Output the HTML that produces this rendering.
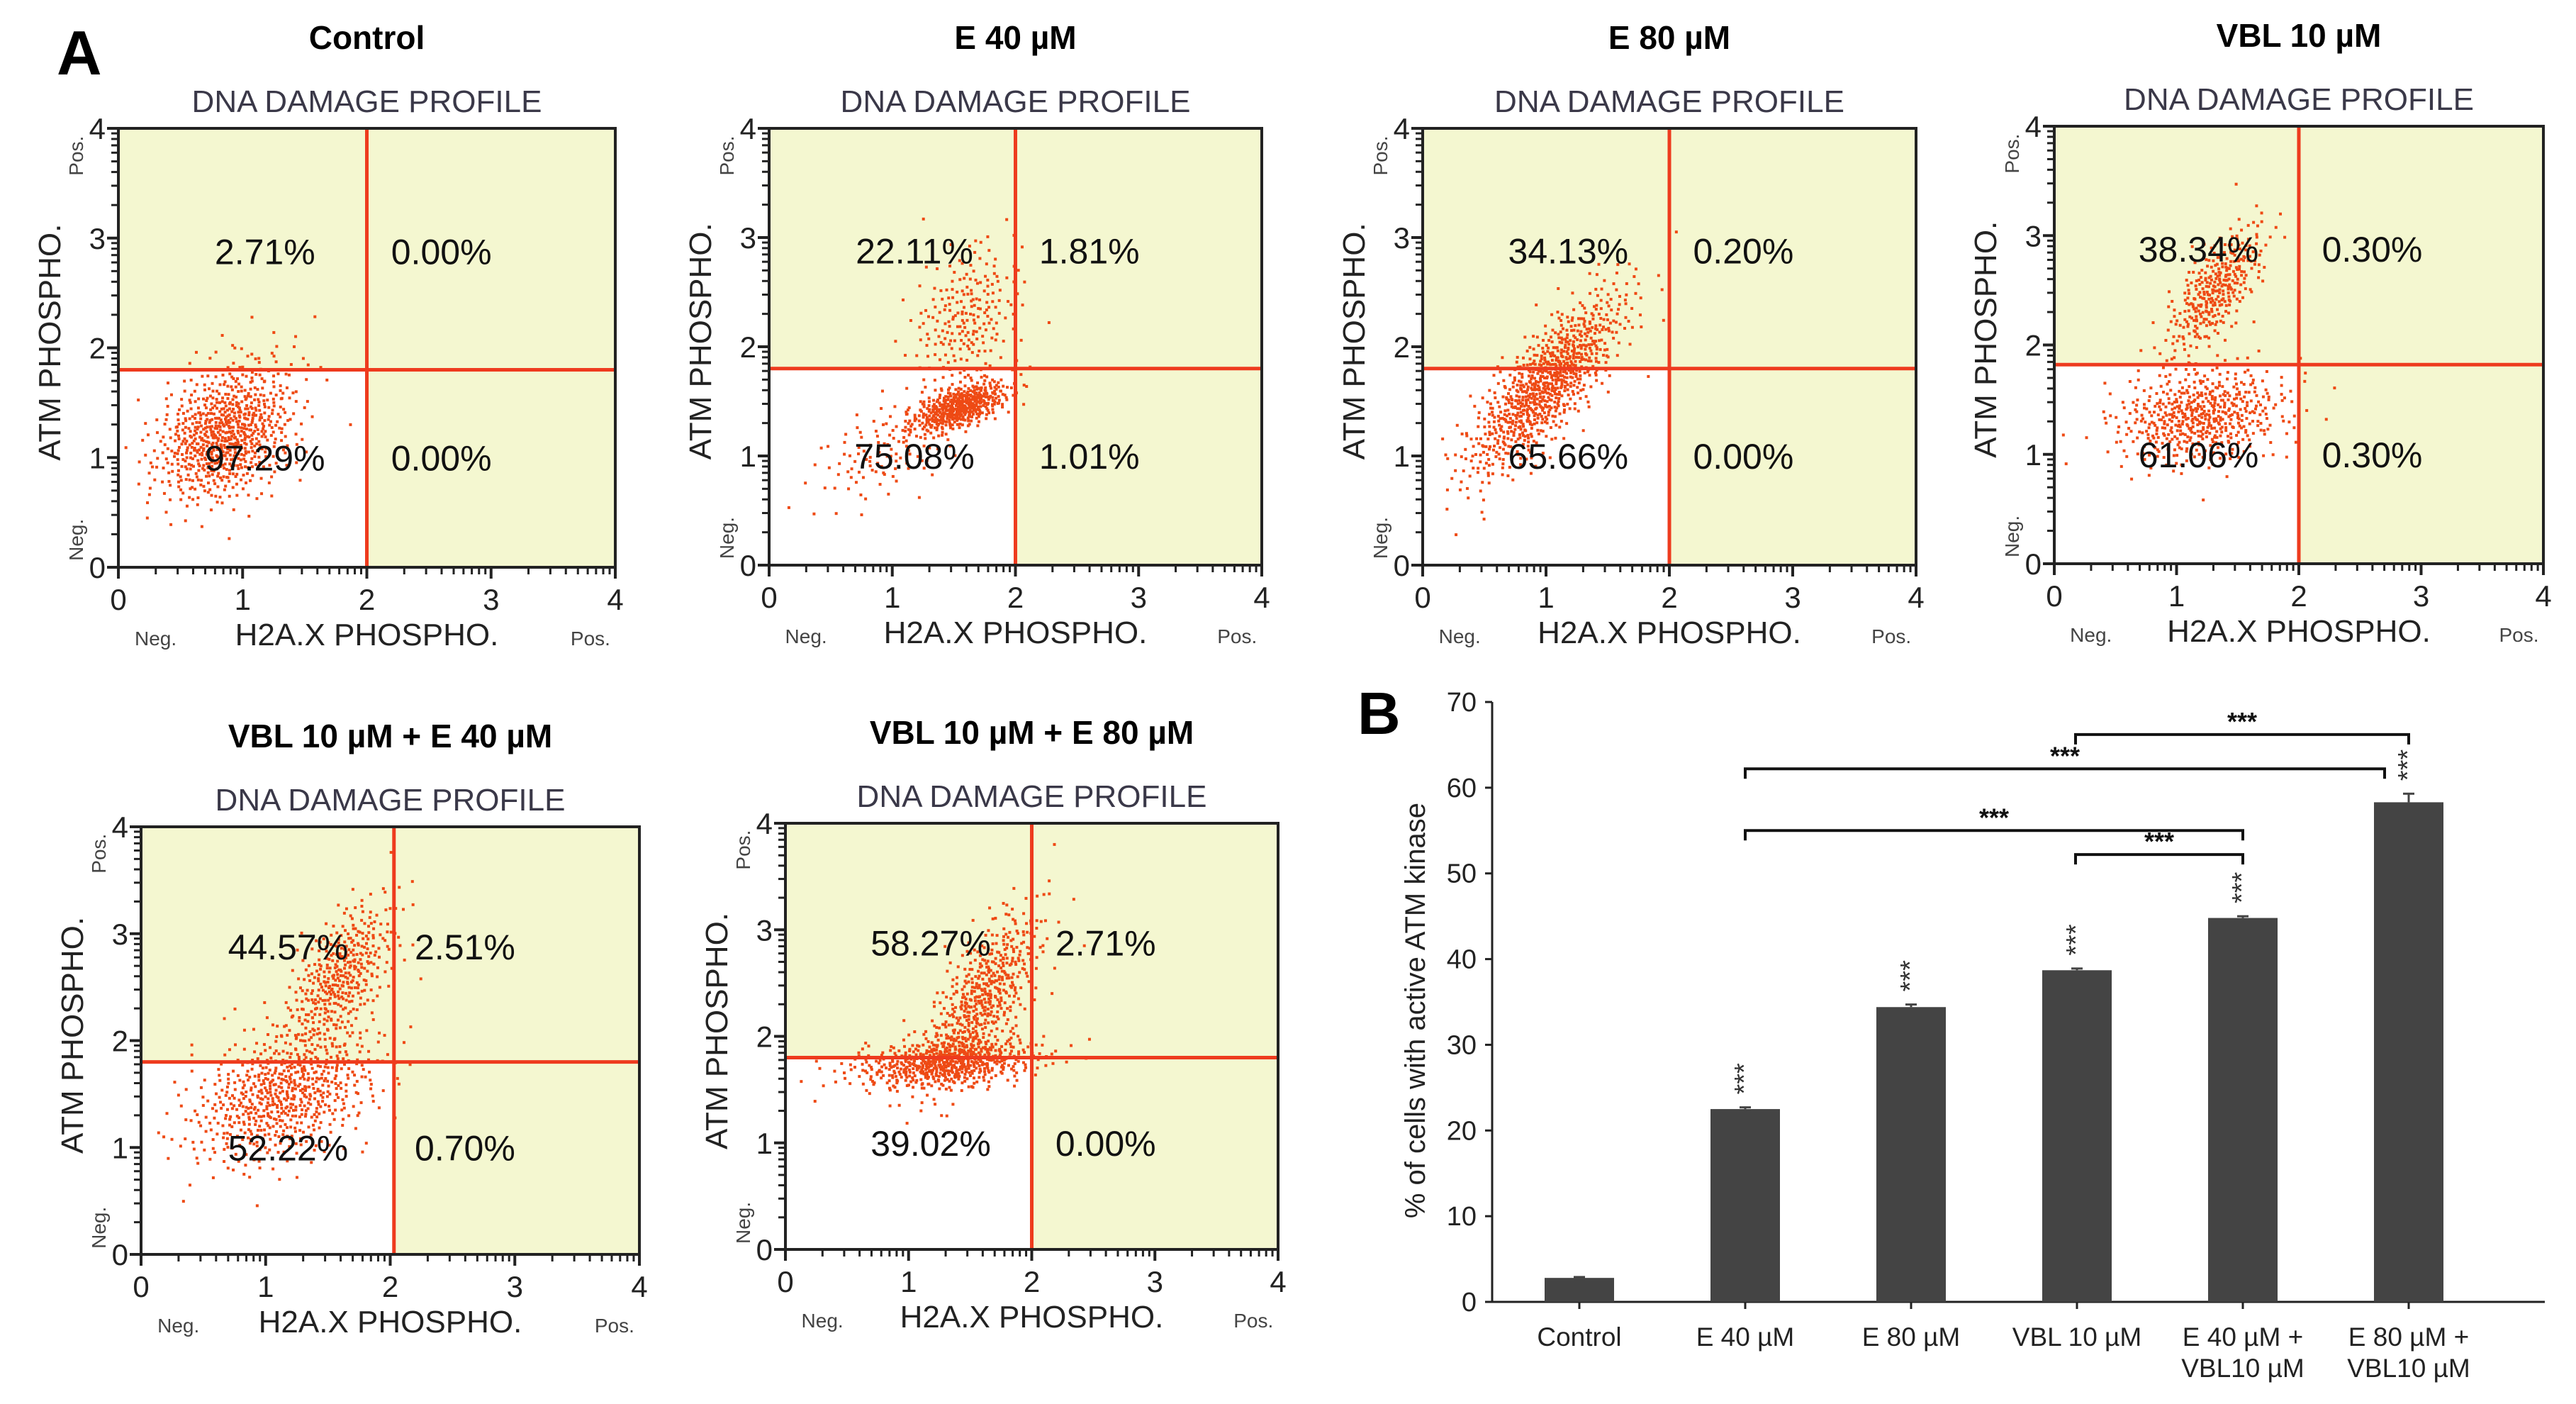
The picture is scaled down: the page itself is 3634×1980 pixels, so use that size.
<!DOCTYPE html>
<html><head><meta charset="utf-8"><style>
html,body{margin:0;padding:0;background:#fff;}
svg{display:block;font-family:"Liberation Sans",Arial,sans-serif;}
</style></head><body>
<svg id="fig" width="3634" height="1980" viewBox="0 0 3634 1980" xmlns="http://www.w3.org/2000/svg">
<text x="80" y="105" font-size="88" font-weight="bold">A</text>
<text x="1915" y="1035" font-size="84" font-weight="bold">B</text>
</svg>
<script>
// ---------- Flow cytometry panel data ----------
const plotTitles = ["Control","E 40 µM","E 80 µM","VBL 10 µM","VBL 10 µM + E 40 µM","VBL 10 µM + E 80 µM"];
const quadrantUL = ["2.71%","22.11%","34.13%","38.34%","44.57%","58.27%"];
const quadrantUR = ["0.00%","1.81%","0.20%","0.30%","2.51%","2.71%"];
const quadrantLL = ["97.29%","75.08%","65.66%","61.06%","52.22%","39.02%"];
const quadrantLR = ["0.00%","1.01%","0.00%","0.30%","0.70%","0.00%"];
const gateX = [2,2,2,2,2.03,2];
const gateY = [1.8,1.8,1.8,1.82,1.8,1.8];
// clusters per plot: [cx, cy, sx, sy, corr, n]
const clustersControl = [[0.85,1.2,0.28,0.3,0.3,700],[1.1,1.7,0.25,0.3,0.2,40]];
const clustersE40 = [[1.55,1.45,0.2,0.12,0.6,450],[1.6,2.25,0.22,0.35,0.3,220],[0.95,1.05,0.3,0.25,0.5,110]];
const clustersE80 = [[1.0,1.65,0.32,0.42,0.8,850]];
const clustersVBL = [[1.32,2.5,0.2,0.3,0.7,330],[1.2,1.35,0.35,0.22,0.2,520]];
const clustersVE40 = [[1.6,2.6,0.22,0.35,0.6,380],[1.15,1.5,0.38,0.33,0.4,650]];
const clustersVE80 = [[1.6,2.35,0.24,0.42,0.7,520],[1.3,1.75,0.38,0.12,0.3,560]];
const plotClusters = [clustersControl,clustersE40,clustersE80,clustersVBL,clustersVE40,clustersVE80];

// layout (pixels)
const boxes = [[167,181,868,800],[1085,181,1780,797],[2007,181,2703,797],[2898,178,3588,795],[199,1166,902,1769],[1108,1161,1803,1762]];

// ---------- Bar chart data ----------
const barCategories = [["Control"],["E 40 µM"],["E 80 µM"],["VBL 10 µM"],["E 40 µM +","VBL10 µM"],["E 80 µM +","VBL10 µM"]];
const barValues = [2.8,22.5,34.4,38.7,44.8,58.3];
const barErrors = [0.1,0.2,0.3,0.2,0.2,1.0];
const barStars = ["","***","***","***","***","***"];
const yTicks = [0,10,20,30,40,50,60,70];
// brackets: [fromIndex, toIndex, level value]
const brackets = [[3,5,66.2],[1,5,62.2],[1,4,55],[3,4,52.2]];

const svg = document.getElementById('fig');
const NS = "http://www.w3.org/2000/svg";
function mk(tag, attrs, parent){const e=document.createElementNS(NS,tag);for(const k in attrs)e.setAttribute(k,attrs[k]);(parent||svg).appendChild(e);return e;}

function halton(i,b){let f=1,r=0;while(i>0){f/=b;r+=f*(i%b);i=Math.floor(i/b);}return r;}

boxes.forEach((b,p)=>{
  const [L,T,R,B]=b;
  const g=mk('g',{});
  
  
  const sx=v=>L+(R-L)*v/4, sy=v=>B-(B-T)*v/4;
  const cx=(L+R)/2;
  let t=mk('text',{x:cx,y:T-112,'font-size':46,'font-weight':'bold','text-anchor':'middle'},g);t.textContent=plotTitles[p];
  
  t=mk('text',{x:cx,y:T-23,'font-size':44,fill:'#3a3848','text-anchor':'middle'},g);t.textContent="DNA DAMAGE PROFILE";
  
  const r=mk('rect',{x:L,y:T,width:R-L,height:B-T,fill:'#f4f7d0'},g);
  
  mk('rect',{x:L,y:sy(gateY[p]),width:sx(gateX[p])-L,height:B-sy(gateY[p]),fill:'#fff'},g);
  const dg=mk('g',{fill:'#ee4a14'},g);
  
  let idx=1+p*997;
  plotClusters[p].forEach(c=>{
    const [mx,my,ssx,ssy,rho,n]=c;
    for(let i=0;i<n;i++){idx++;
      const u1=Math.max(halton(idx,2),1e-4),u2=halton(idx,3);
      const rad=Math.sqrt(-2*Math.log(u1));
      const z1=rad*Math.cos(2*Math.PI*u2),z2=rad*Math.sin(2*Math.PI*u2);
      const x=mx+ssx*z1, y=my+ssy*(rho*z1+Math.sqrt(1-rho*rho)*z2);
      if(x<0.05||x>3.95||y<0.05||y>3.95)continue;
      mk('rect',{x:sx(x)-2,y:sy(y)-2,width:4,height:4},dg);
    }
  });
  mk('line',{x1:sx(gateX[p]),y1:T,x2:sx(gateX[p]),y2:B,stroke:'#ee3b1e','stroke-width':5},g);
  mk('line',{x1:L,y1:sy(gateY[p]),x2:R,y2:sy(gateY[p]),stroke:'#ee3b1e','stroke-width':5},g);
  mk('rect',{x:L,y:T,width:R-L,height:B-T,fill:'none',stroke:'#222','stroke-width':4},g);
  for(let d=0;d<=4;d++){
    mk('line',{x1:sx(d),y1:B,x2:sx(d),y2:B+16,stroke:'#222','stroke-width':4},g);
    mk('line',{x1:L,y1:sy(d),x2:L-16,y2:sy(d),stroke:'#222','stroke-width':4},g);
    let tx=mk('text',{x:sx(d),y:B+60,'font-size':42,'text-anchor':'middle',fill:'#222'},g);tx.textContent=d;
    let ty=mk('text',{x:L-18,y:sy(d)+15,'font-size':42,'text-anchor':'end',fill:'#222'},g);ty.textContent=d;
    if(d<4)for(let k=2;k<=9;k++){const v=d+Math.log10(k);
      mk('line',{x1:sx(v),y1:B,x2:sx(v),y2:B+10,stroke:'#222','stroke-width':3},g);
      mk('line',{x1:L,y1:sy(v),x2:L-10,y2:sy(v),stroke:'#222','stroke-width':3},g);}
  }
  const q=[[quadrantUL,1.18,2.88],[quadrantUR,2.6,2.88],[quadrantLL,1.18,1.0],[quadrantLR,2.6,1.0]];
  q.forEach(([arr,x,y],i)=>{const e=mk('text',{x:sx(x),y:sy(y)+18,'font-size':50,'text-anchor':'middle',fill:'#111'},g);e.textContent=arr[p];
    });
  let a=mk('text',{x:cx,y:B+110,'font-size':44,'text-anchor':'middle',fill:'#222'},g);a.textContent="H2A.X PHOSPHO.";
  
  a=mk('text',{x:sx(0.3),y:B+110,'font-size':28,'text-anchor':'middle',fill:'#444'},g);a.textContent="Neg.";
  a=mk('text',{x:sx(3.8),y:B+110,'font-size':28,'text-anchor':'middle',fill:'#444'},g);a.textContent="Pos.";
  a=mk('text',{x:0,y:0,'font-size':44,'text-anchor':'middle',fill:'#222',transform:`translate(${L-82},${sy(2.05)}) rotate(-90)`},g);a.textContent="ATM PHOSPHO.";
  
  a=mk('text',{x:0,y:0,'font-size':28,'text-anchor':'middle',fill:'#444',transform:`translate(${L-50},${sy(3.75)}) rotate(-90)`},g);a.textContent="Pos.";
  a=mk('text',{x:0,y:0,'font-size':28,'text-anchor':'middle',fill:'#444',transform:`translate(${L-50},${sy(0.25)}) rotate(-90)`},g);a.textContent="Neg.";
});

// ---------- Bar chart ----------
(function(){
  const X0=2105, X1=3590, Y0=1836, Y70=990;
  const bg=mk('g',{});
  
  const y=v=>Y0-(Y0-Y70)*v/70;
  const step=234, first=2228;
  const x=i=>first+i*step;
  const bw=98;
  mk('line',{x1:X0,y1:Y70,x2:X0,y2:Y0,stroke:'#222','stroke-width':3},bg);
  mk('line',{x1:X0,y1:Y0,x2:X1,y2:Y0,stroke:'#222','stroke-width':3},bg);
  yTicks.forEach(v=>{mk('line',{x1:X0-10,y1:y(v),x2:X0,y2:y(v),stroke:'#222','stroke-width':3},bg);
    const t=mk('text',{x:X0-22,y:y(v)+13,'font-size':38,'text-anchor':'end',fill:'#222'},bg);t.textContent=v;
    });
  barValues.forEach((v,i)=>{
    const r=mk('rect',{x:x(i)-bw/2,y:y(v),width:bw,height:Y0-y(v),fill:'#444'},bg);
    
    mk('line',{x1:x(i),y1:y(v+barErrors[i]),x2:x(i),y2:y(v),stroke:'#444','stroke-width':3},bg);
    mk('line',{x1:x(i)-8,y1:y(v+barErrors[i]),x2:x(i)+8,y2:y(v+barErrors[i]),stroke:'#444','stroke-width':3},bg);
    mk('line',{x1:x(i),y1:Y0,x2:x(i),y2:Y0+10,stroke:'#222','stroke-width':3},bg);
    barCategories[i].forEach((ln,k)=>{const t=mk('text',{x:x(i),y:Y0+62+k*44,'font-size':37,'text-anchor':'middle',fill:'#222'},bg);t.textContent=ln;
      });
    if(barStars[i]){const s=mk('text',{x:0,y:0,'font-size':38,'text-anchor':'start',fill:'#333',transform:`translate(${x(i)+11},${y(v+barErrors[i]+1.5)}) rotate(-90)`},bg);s.textContent=barStars[i];
      }
  });
  brackets.forEach(([a,b,lv])=>{
    const xa=x(a)-(a===3?2:0), xb=x(b)-(b===5&&a===1?34:0);
    const p=mk('path',{d:`M${xa},${y(lv)+14} V${y(lv)} H${xb} V${y(lv)+14}`,fill:'none',stroke:'#111','stroke-width':4},bg);
    
    const t=mk('text',{x:(xa+xb)/2,y:y(lv)-6,'font-size':36,'font-weight':'bold','text-anchor':'middle',fill:'#111'},bg);t.textContent="***";
  });
  const yl=mk('text',{x:0,y:0,'font-size':40,'text-anchor':'middle',fill:'#222',transform:`translate(${2010},${y(34)}) rotate(-90)`},bg);
  yl.textContent="% of cells with active ATM kinase";
  
})();
</script>
</body></html>
